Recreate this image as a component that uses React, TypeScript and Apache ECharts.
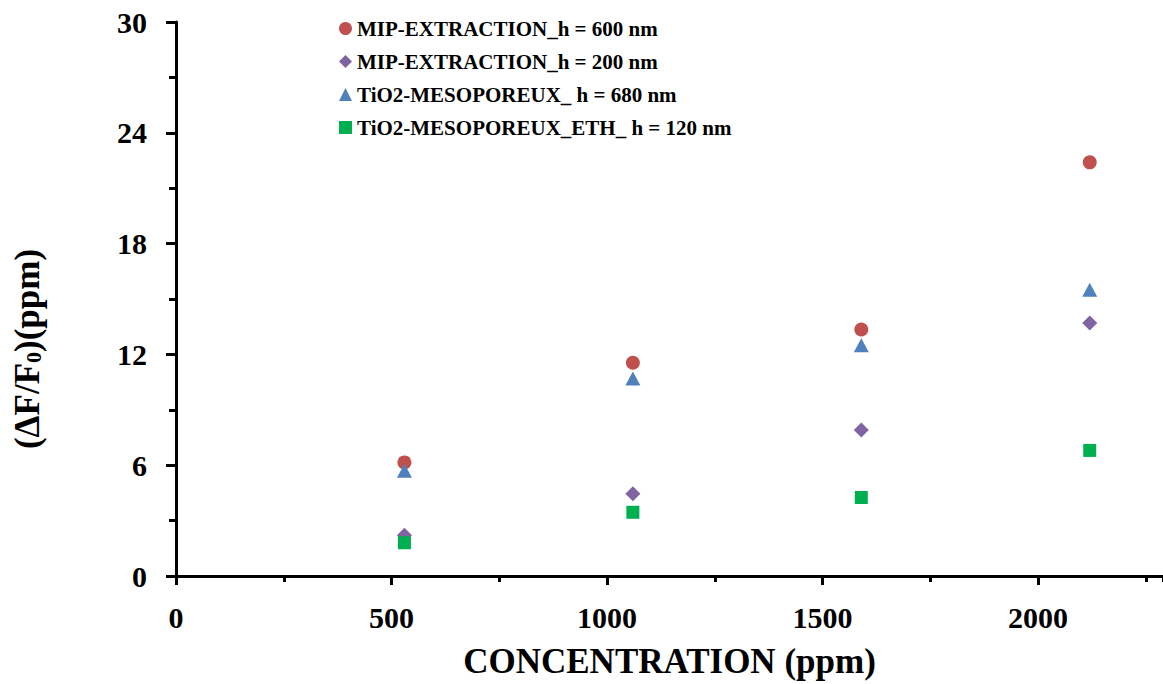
import React, { useEffect, useRef } from "react";
import * as echarts from "echarts";

const concentrations = [530, 1060, 1590, 2120];
const mip600 = [6.15, 11.55, 13.35, 22.4];
const mip200 = [2.2, 4.45, 7.9, 13.7];
const tio680 = [5.7, 10.7, 12.5, 15.5];
const tioEth120 = [1.8, 3.45, 4.25, 6.8];

const seriesNames = [
  "MIP-EXTRACTION_h = 600 nm",
  "MIP-EXTRACTION_h = 200 nm",
  "TiO2-MESOPOREUX_ h = 680 nm",
  "TiO2-MESOPOREUX_ETH_ h = 120 nm",
];
const seriesColors = ["#C0504D", "#8064A2", "#4F81BD", "#00B050"];
const seriesSymbols = ["circle", "diamond", "triangle", "rect"];
const seriesSizes: any[] = [14, [15, 15], [15, 14], 13];
const seriesValues = [mip600, mip200, tio680, tioEth120];

const xAxisTitle = "CONCENTRATION (ppm)";
const FONT = "'Liberation Serif', 'Times New Roman', serif";

export default function App() {
  const ref = useRef<HTMLDivElement>(null);
  useEffect(() => {
    if (!ref.current) return;
    const chart = echarts.init(ref.current, null, { renderer: "svg" });
    chart.setOption({
      animation: false,
      backgroundColor: "#ffffff",
      grid: { left: 176, right: 0, top: 22, bottom: 107, containLabel: false },
      legend: {
        orient: "vertical",
        left: 334,
        top: 13,
        itemWidth: 13,
        itemHeight: 13,
        itemGap: 12,
        itemStyle: { opacity: 1 },
        textStyle: { fontFamily: FONT, fontWeight: "bold", fontSize: 21, color: "#000", lineHeight: 20 },
        data: seriesNames,
      },
      xAxis: [
        {
          type: "value",
          min: 0,
          max: 2290,
          interval: 500,
          position: "bottom",
          name: xAxisTitle,
          nameLocation: "middle",
          nameGap: 68,
          nameTextStyle: { fontFamily: FONT, fontWeight: "bold", fontSize: 35, color: "#000" },
          axisLine: { show: true, lineStyle: { color: "#000", width: 3 } },
          axisTick: { show: true, length: 9, lineStyle: { color: "#000", width: 3 } },
          axisLabel: {
            margin: 26,
            fontFamily: FONT,
            fontWeight: "bold",
            fontSize: 30,
            color: "#000",
            showMaxLabel: false,
            formatter: (v: number) => (v % 500 === 0 ? String(v) : ""),
          },
          splitLine: { show: false },
        },
        {
          type: "value",
          min: 0,
          max: 2290,
          interval: 250,
          position: "bottom",
          axisLine: { show: false },
          axisTick: { show: true, length: 6, lineStyle: { color: "#000", width: 3 } },
          axisLabel: { show: false },
          splitLine: { show: false },
        },
      ],
      yAxis: {
        type: "value",
        min: 0,
        max: 30,
        interval: 6,
        axisLine: { show: true, lineStyle: { color: "#000", width: 3 } },
        axisTick: { show: true, length: 10, lineStyle: { color: "#000", width: 3 } },
        minorTick: { show: true, splitNumber: 2, length: 7, lineStyle: { color: "#000", width: 3 } },
        axisLabel: { margin: 29, fontFamily: FONT, fontWeight: "bold", fontSize: 30, color: "#000" },
        splitLine: { show: false },
      },
      graphic: [
        {
          type: "text",
          x: 27,
          y: 349,
          rotation: Math.PI / 2,
          style: {
            text: "(ΔF/F{sub|0})(ppm)",
            fontFamily: FONT,
            fontWeight: "bold",
            fontSize: 35,
            fill: "#000",
            align: "center",
            verticalAlign: "middle",
            rich: {
              sub: { fontFamily: FONT, fontWeight: "bold", fontSize: 22, fill: "#000", verticalAlign: "bottom", lineHeight: 20 },
            },
          },
        },
      ],
      series: seriesNames.map((name, i) => ({
        name,
        type: "scatter",
        xAxisIndex: 0,
        symbol: seriesSymbols[i],
        symbolSize: seriesSizes[i],
        itemStyle: { color: seriesColors[i], opacity: 1 },
        data: concentrations.map((c, j) => [c, seriesValues[i][j]]),
      })),
    });
    return () => chart.dispose();
  }, []);
  return (
    <div
      ref={ref}
      style={{ position: "absolute", left: 0, top: 0, width: 1163, height: 684, background: "#fff" }}
    />
  );
}
